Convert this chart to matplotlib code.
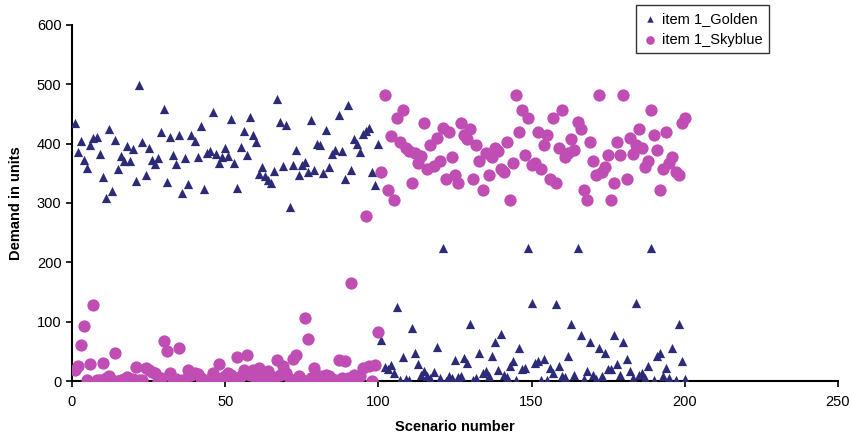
import numpy as np
import matplotlib.pyplot as plt

plt.rcParams['font.family'] = ['Liberation Sans', 'DejaVu Sans']

# scenario numbers
scenarios = np.arange(1, 201)

# item 1_Golden demand per scenario (1..100 high, 101..200 low)
golden_first = [435, 386, 405, 373, 359, 397, 409, 411, 382, 343,
                308, 425, 320, 406, 357, 379, 371, 396, 371, 391,
                337, 499, 402, 347, 393, 373, 365, 375, 419, 458,
                336, 411, 380, 365, 414, 316, 375, 332, 415, 404,
                377, 429, 323, 384, 388, 453, 382, 367, 378, 392,
                379, 442, 368, 326, 395, 422, 381, 445, 414, 402,
                349, 361, 346, 338, 334, 354, 475, 436, 362, 432,
                293, 364, 390, 347, 364, 369, 352, 440, 356, 399,
                397, 351, 423, 360, 383, 390, 449, 388, 341, 465,
                356, 408, 400, 386, 417, 422, 427, 352, 331, 399]
golden_second = [70, 23, 21, 27, 13, 124, 2, 41, 3, 1,
                 89, 48, 29, 10, 17, 9, 5, 15, 58, 6,
                 225, 0, 8, 6, 35, 7, 8, 39, 30, 96,
                 2, 5, 48, 13, 17, 8, 43, 65, 18, 79,
                 11, 7, 26, 34, 1, 56, 20, 22, 225, 132,
                 30, 33, 1, 37, 2, 22, 14, 130, 26, 8,
                 7, 43, 96, 11, 225, 78, 3, 17, 65, 11,
                 4, 56, 8, 48, 20, 20, 78, 29, 11, 65,
                 38, 17, 6, 131, 11, 14, 6, 26, 225, 2,
                 42, 48, 8, 22, 6, 56, 1, 96, 34, 3]

# item 1_Skyblue demand per scenario (1..100 low, 101..200 high)
skyblue_first = [19, 25, 61, 93, 2, 29, 128, 2, 1, 31,
                 5, 8, 1, 48, 0, 1, 3, 7, 1, 3,
                 24, 1, 2, 22, 18, 15, 13, 0, 6, 67,
                 51, 14, 1, 3, 56, 1, 1, 18, 10, 13,
                 12, 5, 1, 0, 4, 14, 5, 28, 5, 8,
                 13, 11, 3, 41, 8, 19, 44, 11, 19, 5,
                 22, 11, 0, 17, 8, 6, 35, 11, 25, 13,
                 4, 37, 44, 8, 2, 106, 71, 5, 22, 3,
                 8, 5, 11, 8, 3, 2, 35, 6, 33, 5,
                 166, 11, 4, 8, 22, 278, 25, 0, 27, 82]
skyblue_second = [352, 482, 322, 413, 305, 444, 402, 456, 393, 388,
                  333, 384, 367, 379, 434, 357, 397, 363, 409, 371,
                  427, 341, 419, 377, 347, 333, 434, 414, 407, 425,
                  341, 397, 371, 322, 384, 347, 377, 393, 388, 357,
                  352, 402, 305, 367, 482, 419, 456, 380, 444, 364,
                  367, 419, 357, 397, 414, 341, 444, 333, 393, 456,
                  377, 384, 408, 390, 436, 425, 322, 305, 402, 371,
                  347, 482, 353, 361, 380, 305, 333, 402, 380, 482,
                  341, 409, 383, 397, 425, 393, 361, 371, 456, 414,
                  390, 322, 357, 419, 367, 377, 353, 347, 434, 443]

golden = golden_first + golden_second
skyblue = skyblue_first + skyblue_second

fig = plt.figure(figsize=(8.52, 4.37), dpi=100)
ax = fig.add_axes([0.0845, 0.128, 0.899, 0.815])

ax.scatter(scenarios, golden, marker="^", s=44, color="#2D2A78",
           linewidths=0, label="item 1_Golden", zorder=3)
ax.scatter(scenarios, skyblue, marker="o", s=78, color="#C04DB4",
           linewidths=0, label="item 1_Skyblue", zorder=3)

ax.set_xlim(0, 250)
ax.set_ylim(0, 600)
ax.set_xticks(np.arange(0, 251, 50))
ax.set_yticks(np.arange(0, 601, 100))
ax.tick_params(labelsize=10.5, length=4, width=1.2, direction="out")
ax.tick_params(axis="x", pad=6)

ax.spines["top"].set_visible(False)
ax.spines["right"].set_visible(False)
ax.spines["left"].set_linewidth(1.5)
ax.spines["bottom"].set_linewidth(1.5)

ax.set_xlabel("Scenario number", fontsize=10.5, fontweight="bold", labelpad=8)
ax.set_ylabel("Demand in units", fontsize=10.5, fontweight="bold", labelpad=10)

leg = fig.legend(loc="upper left", bbox_to_anchor=(636 / 852, 1 - 5 / 437),
                 fontsize=10.5, frameon=True, fancybox=False, borderpad=0.45,
                 borderaxespad=0, handletextpad=0.3, handlelength=1.0,
                 markerscale=0.7, labelspacing=0.5)
leg.get_frame().set_edgecolor("black")
leg.get_frame().set_linewidth(1.0)

fig.savefig("out.png", dpi=100)
